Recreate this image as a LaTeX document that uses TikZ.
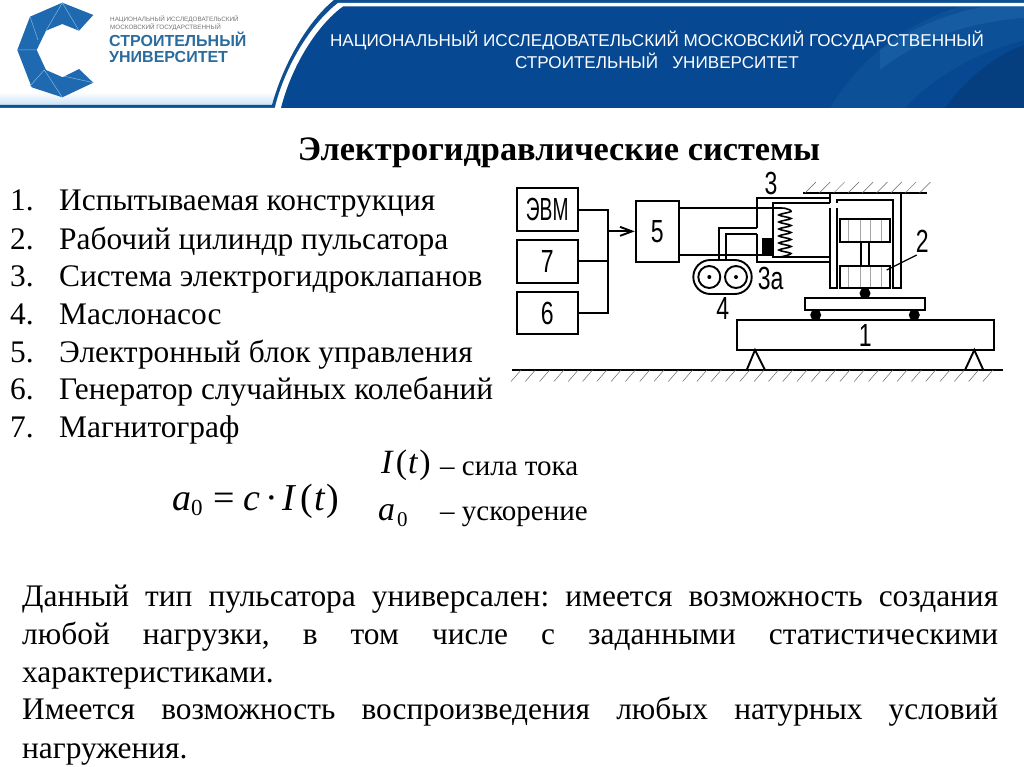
\documentclass[tikz,border=0pt]{standalone}
\usepackage{fontspec}
\usepackage{graphicx}
\setmainfont{Liberation Serif}
\newfontfamily\hdrfont{Liberation Sans}
\usetikzlibrary{arrows.meta}
\frenchspacing
\definecolor{navy}{HTML}{064892}
\definecolor{bandblue}{HTML}{0D4F90}
\definecolor{logoblue}{HTML}{1F69B0}
\definecolor{logoline}{HTML}{7DB8E6}
\definecolor{logotext}{HTML}{2B6C9E}
\definecolor{streak}{HTML}{3C8CCB}
\newcommand{\cad}[1]{\scalebox{.72}[1]{\hdrfont\fontsize{32}{32}\selectfont #1}}
\newcommand{\cadn}[1]{\scalebox{.6}[1]{\hdrfont\fontsize{32}{32}\selectfont #1}}
\newcommand{\sz}[1]{\fontsize{#1}{#1}\selectfont}
\tikzset{
  x=1pt,y=-1pt,
  part/.style={line width=1.9pt,draw=black},
  box/.style={part,minimum width=61pt,minimum height=42.7pt,inner sep=0pt},
  cadlabel/.style={inner sep=0pt},
  wire/.style={line width=1.9pt},
  hatch/.style={line width=.5pt,draw=black!60},
  grain/.style={line width=.5pt,draw=black!35},
  ball/.style={circle,fill=black,inner sep=0pt,minimum size=11pt},
  listnum/.style={anchor=base west,inner sep=0pt,font=\sz{31.4}},
  listtxt/.style={anchor=base west,inner sep=0pt,font=\sz{31.4}},
  para/.style={anchor=base west,inner sep=0pt,font=\sz{31.4}},
  legend/.style={anchor=base west,inner sep=0pt,font=\sz{29}},
  hdr/.style={inner sep=0pt,text=white,font=\hdrfont\sz{17.1}},
}
\begin{document}
\begin{tikzpicture}
\useasboundingbox (0,0) rectangle (1024,767);
\fill[white] (0,0) rectangle (1024,767);
% header
\shade[top color=white,bottom color=logoline!40] (0,92) rectangle (276,105);
\fill[bandblue] (0,105) -- (272,105) .. controls (283,65) and (307,22) .. (334,0) -- (1024,0) -- (1024,108) -- (0,108) -- cycle;
\fill[white] (0,108) -- (275,108) -- (275.5,105) .. controls (286,65) and (311,24) .. (338,3) -- (1024,3) -- (1024,108) -- cycle;
\path[fill=navy] (281,108) .. controls (291,68) and (316,26) .. (343,6.5) -- (1024,6.5) -- (1024,108) -- cycle;
\begin{scope}
\clip (281,108) .. controls (291,68) and (316,26) .. (343,6.5) -- (1024,6.5) -- (1024,108) -- cycle;
\fill[streak,opacity=.12] (830,108) .. controls (860,60) and (900,25) .. (960,6.5) -- (1024,6.5) -- (1024,40) .. controls (970,55) and (930,80) .. (905,108) -- cycle;
\fill[streak,opacity=.2] (880,50) .. controls (910,30) and (940,15) .. (985,6.5) -- (1024,6.5) -- (1024,18) .. controls (970,22) and (920,38) .. (880,70) -- cycle;
\fill[black,opacity=.12] (945,108) .. controls (965,80) and (995,55) .. (1024,45) -- (1024,108) -- cycle;
\end{scope}
\node[hdr] (h1) at (657,40) {НАЦИОНАЛЬНЫЙ ИССЛЕДОВАТЕЛЬСКИЙ МОСКОВСКИЙ ГОСУДАРСТВЕННЫЙ};
\node[hdr] (h2) at (657,60.5) {СТРОИТЕЛЬНЫЙ\ \ \ УНИВЕРСИТЕТ};
% logo
\fill[logoblue] (62.3,2.7) -- (93.3,15) -- (79,30.7) -- (62.3,24) -- (46,30.7) -- (36.7,50) -- (46,70) -- (62.7,77.3) -- (79,69) -- (93.3,82.7) -- (62.3,97.3) -- (31.7,87.3) -- (17.3,50) -- (30,16.7) -- cycle;
\draw[logoline,line width=.5pt] (30,16.7) -- (38,40) (17.3,50) -- (36.7,50) (62.3,2.7) -- (46,30.7) (62.3,2.7) -- (79,30.7) (44.3,70) -- (30,86) (44.3,70) -- (62.3,97.3) (63.3,76) -- (93.3,82.7);
\node[anchor=base west,inner sep=0pt,text=black!55,font=\hdrfont\sz{6.3}] (lg1) at (110,22) {НАЦИОНАЛЬНЫЙ ИССЛЕДОВАТЕЛЬСКИЙ};
\node[anchor=base west,inner sep=0pt,text=black!55,font=\hdrfont\sz{6.3}] (lg2) at (110,30) {МОСКОВСКИЙ ГОСУДАРСТВЕННЫЙ};
\node[anchor=base west,inner sep=0pt,text=logotext,font=\hdrfont\bfseries\sz{16}] (lg3) at (109,47) {СТРОИТЕЛЬНЫЙ};
\node[anchor=base west,inner sep=0pt,text=logotext,font=\hdrfont\bfseries\sz{16}] (lg4) at (109,62.5) {УНИВЕРСИТЕТ};
% title
\node[inner sep=0pt,anchor=base,font=\bfseries\sz{34.3}] (title) at (559,160.5) {Электрогидравлические системы};
% list
\foreach \n/\yy/\t in {1/211/Испытываемая конструкция,2/249/Рабочий цилиндр пульсатора,3/286.5/Система электрогидроклапанов,4/324/Маслонасос,5/362/Электронный блок управления,6/399/Генератор случайных колебаний,7/437/Магнитограф}{
  \node[listnum] (num\n) at (10,\yy) {\n.};
  \node[listtxt] (item\n) at (59,\yy) {\t};
}
% formulas
\node[anchor=base west,inner sep=0pt,font=\sz{38}] (formula) at (172,510) {\textit{a}\raisebox{-5pt}{\sz{23}0}\kern11pt=\kern8pt\textit{c}\kern5pt·\kern5pt\textit{I}\kern4pt(\kern1pt\textit{t}\kern1pt)};
\node[anchor=base west,inner sep=0pt,font=\sz{34}] (it) at (381,473) {\textit{I}\kern2pt(\kern1pt\textit{t}\kern1pt)};
\node[anchor=base west,inner sep=0pt,font=\sz{34}] (az) at (378,520) {\textit{a}\raisebox{-6pt}{\sz{21}\kern2pt0}};
\node[legend] (l1) at (440,475) {– сила тока};
\node[legend] (l2) at (440,520) {– ускорение};
% paragraph
\node[para] (p1) at (22,606) {\makebox[976pt][s]{Данный тип пульсатора универсален: имеется возможность создания}};
\node[para] (p2) at (22,644) {\makebox[976pt][s]{любой нагрузки, в том числе с заданными статистическими}};
\node[para] (p3) at (22,682) {характеристиками.};
\node[para] (p4) at (22,719) {\makebox[976pt][s]{Имеется возможность воспроизведения любых натурных условий}};
\node[para] (p5) at (22,758) {нагружения.};
% block diagram
\node[box] (evm) at (547.2,209.6) {\cadn{ЭВМ}};
\node[box] (seven) at (547.2,261.3) {\cad{7}};
\node[box] (six) at (547.2,313) {\cad{6}};
\node[part,minimum width=43pt,minimum height=60.7pt,inner sep=0pt] (five) at (657.2,231.35) {\cad{5}};
\coordinate (busA) at (608.3,209.6);
\coordinate (busB) at (608.3,261.3);
\coordinate (busC) at (608.3,313);
\coordinate (busM) at (608.3,231.35);
\draw[wire] (evm.east) -- (busA) -- (busC) -- (six.east);
\draw[wire] (seven.east) -- (busB);
\draw[wire,-{Straight Barb[length=12pt,width=9pt]}] (busM) -- (five.west);
% valve block
\coordinate (valveTL) at (756.7,198.3);
\coordinate (valveBL) at (756.7,262.3);
\coordinate (innerTL) at (772.7,203.3);
\coordinate (innerBL) at (772.7,257.3);
\coordinate (wallTop) at (830,193.3);
\coordinate (wallBot) at (830,288.3);
\draw[wire] (756.7,228.3) -- (valveTL) -- (830,198.3);
\draw[wire] (756.7,233.8) -- (valveBL) -- (830,262.3);
\draw[wire] (830,203.3) -- (innerTL) -- (innerBL) -- (830,257.3);
\draw[wire] (678.7,208) -- (772.7,208);
\draw[wire] (678.7,255) -- (772.7,255);
% spring
\draw[line width=1.6pt] plot[smooth,tension=.55] coordinates {(772.7,208) (785,208.3) (791,211.5) (779,215) (791,218.5) (779,222) (791,225.5) (779,229) (791,232.5) (779,236) (791,239.5) (779,243) (791,246.5) (779,250) (791,253.5) (781,256.8) (772.7,257)};
\fill[black] (762.3,238.3) rectangle (773.3,255);
% pump
\node[part,rounded corners=17pt,minimum width=58.4pt,minimum height=34pt,inner sep=0pt] (pump) at (722.5,277) {};
\node[circle,draw,line width=1.9pt,minimum size=22pt,inner sep=0pt] (rotorA) at (709.3,277) {};
\node[circle,draw,line width=1.9pt,minimum size=22pt,inner sep=0pt] (rotorB) at (736,277) {};
\fill (rotorA.center) circle (2);
\fill (rotorB.center) circle (2);
\draw[wire] (719.3,260) -- (719.3,228.3) -- (756.7,228.3);
\draw[wire] (725.7,260) -- (725.7,233.8) -- (756.7,233.8);
% cylinder
\draw[wire] (803.3,193.3) -- (926.7,193.3);
\draw[wire] (830,193.3) -- (830,203.3);
\draw[wire] (830,208.3) -- (wallBot) -- (836.7,288.3) -- (836.7,208.3);
\draw[wire] (836.7,203) -- (836.7,200) -- (893.3,200) -- (893.3,288.3) -- (900.7,288.3) -- (900.7,193.3);
\foreach \gx in {848.3,860,870,881.7}{
  \draw[grain] (\gx,219.3) -- (\gx,241.7);
  \draw[grain] (\gx,265.7) -- (\gx,287.7);
}
\draw[wire] (840,219.3) rectangle (890,241.7);
\draw[wire] (840,265.7) rectangle (890,287.7);
\draw[wire] (860.7,241.7) -- (860.7,265.7) (869.3,241.7) -- (869.3,265.7);
\node[ball] (ballTop) at (865,293.3) {};
\node[part,minimum width=120pt,minimum height=11.7pt,inner sep=0pt] (plate) at (865,304.15) {};
\node[ball] (rollA) at (815.7,315) {};
\node[ball] (rollB) at (914.3,315) {};
\node[part,minimum width=257.3pt,minimum height=29.7pt,inner sep=0pt] (beam) at (865.35,335.15) {\cad{1}};
% ground and supports
\coordinate (groundL) at (511.7,370);
\coordinate (groundR) at (1003,370);
\draw[line width=2pt] (groundL) -- (groundR);
\foreach \hx in {0,...,33}{
  \draw[hatch] ({521+\hx*14.3},370) -- ({511+\hx*14.3},381.5);
}
\foreach \hx in {0,...,8}{
  \draw[hatch] ({805+\hx*14.3},193) -- ({816+\hx*14.3},182);
}
\draw[wire] (746.7,370) -- (755,350) -- (765,370);
\draw[wire] (965,370) -- (974.3,350) -- (983.3,370);
% labels
\node[cadlabel] (l3) at (771,183) {\cad{3}};
\node[cadlabel] (l3a) at (770.7,278) {\cad{3а}};
\node[cadlabel] (l4) at (722.7,308) {\cad{4}};
\node[cadlabel] (l2n) at (922.3,241) {\cad{2}};
\coordinate (lead) at (886.7,270);
\draw[line width=1.2pt] (916.7,255) -- (lead);
\end{tikzpicture}
\end{document}
